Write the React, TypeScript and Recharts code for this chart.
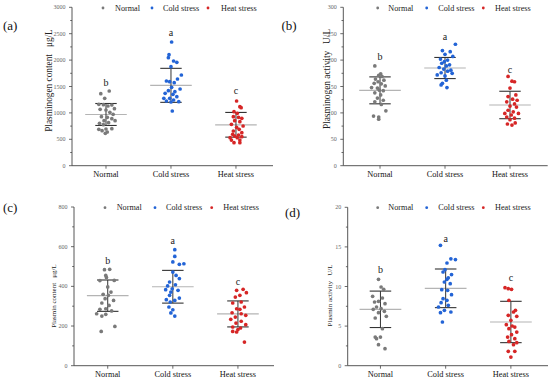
import React from 'react';
import { ScatterChart, Scatter, XAxis, YAxis, ReferenceLine } from 'recharts';

const FONT = "'Liberation Serif', 'Times New Roman', Times, serif";

const categories = ['Normal', 'Cold stress', 'Heat stress'];
const groupColors = ['#7a7a7a', '#2364d6', '#d62626'];

// Each point: [horizontal jitter from group centre (category units), value]
// (a) Plasminogen content, ug/L
const aNormal: [number, number][] = [
  [0.05, 1415], [-0.08, 1364], [-0.02, 1276], [-0.11, 1162], [-0.04, 1156], [0.03, 1131],
  [0.09, 1150], [0.13, 1080], [-0.09, 1067], [0, 1055], [0.06, 1010], [0.11, 973],
  [-0.07, 928], [0.02, 916], [0.09, 890], [-0.03, 853], [0.14, 853], [-0.1, 802],
  [0.04, 815], [-0.04, 777], [-0.11, 688], [0, 695], [0.09, 701], [-0.06, 663],
  [0.02, 638], [-0.01, 613],
];
const aCold: [number, number][] = [
  [0.01, 2343], [-0.03, 2103], [-0.04, 2046], [0.04, 1983], [0.09, 1958], [0, 1876],
  [0.16, 1718], [0.1, 1642], [-0.07, 1604], [-0.02, 1592], [0.05, 1573], [0.01, 1484],
  [0.14, 1453], [-0.04, 1421], [0.06, 1402], [-0.09, 1371], [0.03, 1352], [0.09, 1307],
  [-0.11, 1276], [-0.02, 1276], [0.04, 1244], [-0.07, 1225], [0.12, 1213], [0, 1206],
  [0.02, 1036],
];
const aHeat: [number, number][] = [
  [0.01, 1225], [0.06, 1118], [0.08, 1099], [-0.03, 1023], [0.02, 992], [-0.04, 928],
  [0.04, 916], [0.09, 897], [-0.02, 853], [0.06, 834], [-0.07, 783], [0.11, 752],
  [0.01, 726], [0.05, 688], [-0.04, 657], [0.09, 625], [-0.05, 594], [0.04, 581],
  [-0.02, 562], [0.09, 549], [-0.09, 530], [0.02, 530], [-0.07, 486], [0.06, 486],
  [-0.03, 436], [0.06, 436],
];
const aMeans = [970, 1522, 775];
const aSDs = [208, 322, 234];
const aLetters = ['b', 'a', 'c'];
const aLetterY = [1579, 2526, 1415];
const aTicks = [0, 250, 500, 750, 1000, 1250, 1500, 1750, 2000, 2250, 2500, 2750, 3000];

// (b) Plasminogen activity, U/L
const bNormal: [number, number][] = [
  [-0.08, 189], [0.01, 174], [-0.02, 171], [0.03, 169], [-0.07, 164], [0.06, 162],
  [-0.03, 159], [-0.09, 156], [0.02, 155], [0.08, 151], [-0.13, 148], [-0.04, 147],
  [-0.01, 143], [0.05, 142], [-0.08, 138], [0.01, 134], [-0.04, 128], [0.05, 124],
  [-0.08, 121], [0.02, 116], [0.09, 104], [-0.1, 94], [-0.02, 92], [-0.02, 88],
];
const bCold: [number, number][] = [
  [0.16, 230], [-0.04, 218], [0.08, 216], [0, 211], [0.12, 207], [-0.07, 202],
  [0.04, 200], [-0.01, 197], [-0.05, 194], [0.07, 191], [0.02, 189], [-0.09, 186],
  [-0.02, 183], [0.09, 181], [0.04, 179], [-0.06, 176], [0.11, 175], [-0.12, 172],
  [0, 170], [0.02, 162], [-0.04, 156], [-0.06, 153], [0.03, 148],
];
const bHeat: [number, number][] = [
  [-0.03, 169], [0.03, 160], [0.07, 159], [0, 147], [0.09, 134], [-0.03, 131],
  [0.11, 124], [0.04, 126], [-0.05, 121], [0.07, 117], [0, 113], [0.1, 111],
  [-0.03, 105], [0.05, 102], [-0.08, 99], [0.13, 99], [0.02, 96], [-0.05, 92],
  [0.07, 90], [0, 87], [0.08, 81], [-0.04, 79], [0.03, 77],
];
const bMeans = [142.7, 185, 115];
const bSDs = [25.5, 20, 26];
const bLetters = ['b', 'a', 'c'];
const bLetterY = [206.5, 244, 183];
const bTicks = [0, 25, 50, 75, 100, 125, 150, 175, 200, 225, 250, 275, 300];

// (c) Plasmin content, ug/L
const cNormal: [number, number][] = [
  [-0.05, 484], [0.03, 486], [-0.03, 455], [-0.02, 445], [0.1, 430], [-0.12, 429],
  [0, 397], [0.05, 371], [-0.07, 360], [0.01, 355], [-0.04, 338], [0.09, 329],
  [-0.09, 316], [0.02, 304], [-0.03, 287], [-0.12, 284], [0.06, 276], [-0.17, 262],
  [-0.03, 259], [-0.09, 250], [0.11, 198], [-0.1, 173],
];
const cCold: [number, number][] = [
  [0.03, 585], [0.03, 551], [0, 523], [0.1, 511], [0.17, 514], [0, 472],
  [0.05, 455], [0.1, 439], [-0.05, 422], [0.04, 408], [-0.08, 402], [-0.01, 388],
  [-0.11, 383], [0.08, 380], [-0.03, 371], [-0.05, 355], [0.1, 341], [-0.1, 333],
  [0.03, 329], [-0.04, 321], [-0.06, 296], [0, 282], [-0.03, 266], [0.03, 250],
];
const cHeat: [number, number][] = [
  [0.08, 385], [-0.02, 380], [0.13, 368], [0.03, 355], [-0.04, 346], [0.05, 321],
  [-0.08, 316], [0.1, 296], [-0.02, 287], [0.03, 284], [-0.09, 267], [0.05, 262],
  [0.12, 254], [-0.04, 245], [-0.11, 234], [0.05, 224], [-0.03, 215], [0.12, 207],
  [-0.08, 195], [0.04, 190], [0, 182], [-0.08, 173], [-0.02, 170], [0.1, 119],
];
const cMeans = [353, 398, 261];
const cSDs = [79, 82.5, 65.5];
const cLetters = ['b', 'a', 'c'];
const cLetterY = [528, 632, 422];
const cTicks = [0, 100, 200, 300, 400, 500, 600, 700, 800];

// (d) Plasmin activity, U/L
const dNormal: [number, number][] = [
  [-0.03, 10.9], [0.01, 9.94], [0.05, 9.64], [-0.12, 8.76], [0.03, 8.55], [-0.03, 8.13],
  [-0.09, 8.04], [0.07, 7.83], [-0.06, 7.41], [0.01, 7.2], [-0.11, 7.12], [0.06, 6.86],
  [-0.03, 6.7], [0.09, 6.23], [-0.08, 6.02], [0.03, 4.67], [-0.08, 3.62], [0, 3.62],
  [-0.06, 3.41], [-0.03, 2.65], [0.07, 2.15],
];
const dCold: [number, number][] = [
  [-0.08, 15.2], [0.08, 13.5], [0.15, 13.4], [0.02, 12.97], [-0.01, 12.13], [-0.04, 11.83],
  [0.09, 11.5], [0.04, 11.1], [0.02, 10.9], [-0.02, 10.57], [0.07, 10.36], [-0.06, 9.6],
  [0.03, 9.52], [0.09, 8.97], [-0.04, 8.46], [0.02, 8.25], [-0.07, 7.96], [0.04, 7.62],
  [-0.11, 7.41], [-0.02, 6.99], [0.08, 6.78], [-0.08, 6.7], [-0.05, 5.52],
];
const dHeat: [number, number][] = [
  [-0.09, 9.85], [-0.04, 9.73], [0.01, 9.64], [-0.03, 8.25], [0.07, 6.99], [0.04, 6.78],
  [-0.04, 6.36], [0.09, 6.23], [0, 5.73], [-0.07, 5.18], [0.02, 5.01], [0.06, 4.88],
  [-0.03, 4.67], [0.09, 4.25], [0.01, 3.92], [-0.05, 3.62], [0.06, 3.41], [-0.03, 3.07],
  [0.09, 2.91], [0.04, 2.65], [-0.04, 1.81], [0.06, 1.81], [0, 1.09],
];
const dMeans = [7.12, 9.77, 5.52];
const dSDs = [2.3, 2.44, 2.61];
const dLetters = ['b', 'a', 'c'];
const dLetterY = [12.2, 16.0, 11.1];
const dTicks = [0, 2.5, 5, 7.5, 10, 12.5, 15, 17.5, 20];

type PanelCfg = {
  left: number;
  top: number;
  yAxisWidth: number;
  marginTop: number;
  marginRight: number;
  xAxisHeight: number;
  marginBottom: number;
  xDomain: [number, number];
  yTicks: number[];
  majorStep: number;
  groups: [number, number][][];
  means: number[];
  sds: number[];
  letters: string[];
  letterY: number[];
};

const MEAN_HALF = 0.32;
const CAP_HALF = 0.165;

function YTick(props: any) {
  const { x, y, payload, majorStep } = props;
  const v = payload.value as number;
  const major = Math.abs(v / majorStep - Math.round(v / majorStep)) < 1e-6;
  return (
    <g>
      <line x1={x} x2={x - (major ? 3 : 1.8)} y1={y} y2={y} stroke="#444" strokeWidth={0.8} />
      {major && (
        <text x={x - 6.5} y={y} textAnchor="end" dominantBaseline="central" fontSize={6} fill="#666" fontFamily={FONT}>
          {v}
        </text>
      )}
    </g>
  );
}

function Panel({ cfg }: { cfg: PanelCfg }) {
  const yMax = cfg.yTicks[cfg.yTicks.length - 1];
  return (
    <div style={{ position: 'absolute', left: cfg.left, top: cfg.top }}>
      <ScatterChart
        width={275}
        height={192}
        margin={{ top: cfg.marginTop, right: cfg.marginRight, bottom: cfg.marginBottom, left: 0 }}
      >
        <XAxis
          dataKey="x"
          type="number"
          domain={cfg.xDomain}
          allowDataOverflow
          ticks={[1, 2, 3]}
          interval={0}
          tickFormatter={(v: number) => categories[v - 1]}
          height={cfg.xAxisHeight}
          tickSize={3}
          tickMargin={2}
          axisLine={{ stroke: '#444', strokeWidth: 0.9 }}
          tickLine={{ stroke: '#444', strokeWidth: 0.8 }}
          tick={{ fontSize: 8.3, fill: '#111', fontFamily: FONT }}
        />
        <YAxis
          dataKey="y"
          type="number"
          domain={[0, yMax]}
          allowDataOverflow
          ticks={cfg.yTicks}
          interval={0}
          width={cfg.yAxisWidth}
          tickSize={0}
          tickMargin={0}
          tickLine={false}
          axisLine={{ stroke: '#444', strokeWidth: 0.9 }}
          tick={(p: any) => <YTick {...p} majorStep={cfg.majorStep} />}
        />
        {cfg.groups.map((g, i) => (
          <Scatter
            key={'g' + i}
            name={categories[i]}
            data={g.map(([j, v]) => ({ x: i + 1 + j, y: v }))}
            fill={groupColors[i]}
            isAnimationActive={false}
            shape={(p: any) => <circle cx={p.cx} cy={p.cy} r={1.85} fill={groupColors[i]} />}
          />
        ))}
        {cfg.means.map((m, i) => (
          <ReferenceLine
            key={'m' + i}
            segment={[{ x: i + 1 - MEAN_HALF, y: m }, { x: i + 1 + MEAN_HALF, y: m }]}
            stroke="#b4b4b4"
            strokeWidth={1.2}
          />
        ))}
        {cfg.means.map((m, i) => (
          <ReferenceLine
            key={'v' + i}
            segment={[{ x: i + 1, y: m - cfg.sds[i] }, { x: i + 1, y: m + cfg.sds[i] }]}
            stroke="#333"
            strokeWidth={1}
          />
        ))}
        {cfg.means.map((m, i) => (
          <ReferenceLine
            key={'u' + i}
            segment={[{ x: i + 1 - CAP_HALF, y: m + cfg.sds[i] }, { x: i + 1 + CAP_HALF, y: m + cfg.sds[i] }]}
            stroke="#333"
            strokeWidth={1.1}
          />
        ))}
        {cfg.means.map((m, i) => (
          <ReferenceLine
            key={'l' + i}
            segment={[{ x: i + 1 - CAP_HALF, y: m - cfg.sds[i] }, { x: i + 1 + CAP_HALF, y: m - cfg.sds[i] }]}
            stroke="#333"
            strokeWidth={1.1}
          />
        ))}
        <Scatter
          name="letters"
          data={cfg.letters.map((l, i) => ({ x: i + 1, y: cfg.letterY[i], label: l }))}
          fill="#222"
          isAnimationActive={false}
          legendType="none"
          shape={(p: any) => (
            <text x={p.cx} y={p.cy} textAnchor="middle" dominantBaseline="central" fontSize={10} fill="#222" fontFamily={FONT}>
              {p.payload.label}
            </text>
          )}
        />
      </ScatterChart>
    </div>
  );
}

const panels: PanelCfg[] = [
  {
    left: 0, top: 0, yAxisWidth: 72, marginTop: 7.3, marginRight: 2, xAxisHeight: 20, marginBottom: 6.3,
    xDomain: [0.477, 3.57], yTicks: aTicks, majorStep: 500,
    groups: [aNormal, aCold, aHeat], means: aMeans, sds: aSDs, letters: aLetters, letterY: aLetterY,
  },
  {
    left: 275, top: 0, yAxisWidth: 68.3, marginTop: 7.3, marginRight: 2.3, xAxisHeight: 20, marginBottom: 6.3,
    xDomain: [0.435, 3.58], yTicks: bTicks, majorStep: 50,
    groups: [bNormal, bCold, bHeat], means: bMeans, sds: bSDs, letters: bLetters, letterY: bLetterY,
  },
  {
    left: 0, top: 192, yAxisWidth: 74, marginTop: 15, marginRight: 1, xAxisHeight: 18, marginBottom: 0.3,
    xDomain: [0.482, 3.554], yTicks: cTicks, majorStep: 200,
    groups: [cNormal, cCold, cHeat], means: cMeans, sds: cSDs, letters: cLetters, letterY: cLetterY,
  },
  {
    left: 275, top: 192, yAxisWidth: 72.7, marginTop: 15.3, marginRight: 2, xAxisHeight: 18, marginBottom: 0.3,
    xDomain: [0.498, 3.569], yTicks: dTicks, majorStep: 5,
    groups: [dNormal, dCold, dHeat], means: dMeans, sds: dSDs, letters: dLetters, letterY: dLetterY,
  },
];

const panelTitles = ['(a)', '(b)', '(c)', '(d)'];
const yLabels = [
  ['Plasminogen content', 'μg/L'],
  ['Plasminogen activity', 'U/L'],
  ['Plasmin content', 'μg/L'],
  ['Plasmin activity', 'U/L'],
];

// overlay layout (page coordinates)
const titlePos = [[3, 29.5], [281.5, 29.5], [3, 212], [285, 217]];
const yLabelPos = [[48.5, 80.5, 9.3], [326.5, 79, 9.3], [54, 296, 7], [330, 295.5, 7]];
const legendY = [8, 8, 207.7, 207.7];
const legendDotX = [[103, 152, 208], [377.7, 426.7, 483.3], [105, 155, 211.7], [377.7, 426.7, 483.3]];
const legendTextX = [[115, 163, 221], [388.3, 438.3, 495], [116.7, 166, 223.3], [388.3, 438.3, 495]];

export default function App() {
  return (
    <div style={{ position: 'absolute', left: 0, top: 0, width: 550, height: 384, background: '#fff', overflow: 'hidden' }}>
      {panels.map((p, i) => (
        <Panel key={i} cfg={p} />
      ))}
      <svg width={550} height={384} style={{ position: 'absolute', left: 0, top: 0, pointerEvents: 'none' }}>
        {panelTitles.map((t, i) => (
          <text key={'t' + i} x={titlePos[i][0]} y={titlePos[i][1]} fontSize={13} fill="#111" fontFamily={FONT}>
            {t}
          </text>
        ))}
        {yLabels.map((l, i) => {
          const [cx, cy, fs] = yLabelPos[i];
          return (
            <text
              key={'y' + i}
              x={cx}
              y={cy}
              transform={`rotate(-90 ${cx} ${cy})`}
              textAnchor="middle"
              dominantBaseline="central"
              fontSize={fs}
              fill="#222"
              fontFamily={FONT}
            >
              {l[0] + '\u00a0\u00a0\u00a0' + l[1]}
            </text>
          );
        })}
        {legendY.map((ly, i) => (
          <g key={'lg' + i}>
            {categories.map((c, k) => (
              <g key={c}>
                <circle cx={legendDotX[i][k]} cy={ly} r={1.4} fill={groupColors[k]} />
                <text x={legendTextX[i][k]} y={ly} dominantBaseline="central" fontSize={8.2} fill="#222" fontFamily={FONT}>
                  {c}
                </text>
              </g>
            ))}
          </g>
        ))}
      </svg>
    </div>
  );
}
